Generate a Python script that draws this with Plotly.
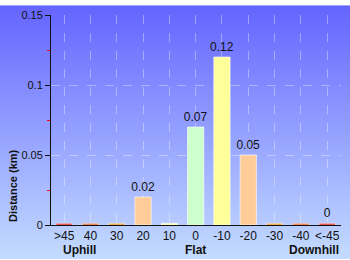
import base64
import plotly.graph_objects as go

categories = [">45", "40", "30", "20", "10", "0", "-10", "-20", "-30", "-40", "<-45"]
distances = [0.0012, 0.0012, 0.0012, 0.02, 0.0012, 0.07, 0.12, 0.05, 0.0012, 0.0012, 0.0012]
labels = ["", "", "", "0.02", "", "0.07", "0.12", "0.05", "", "", "0"]
bar_colors = ["#dd1111", "#e05518", "#e08a10", "#ffcc99", "#ffffaa", "#ccffcc",
              "#ffff99", "#ffcc99", "#e88a10", "#e85518", "#dd1111"]
group_labels = ["Uphill", "Flat", "Downhill"]
group_positions = [0.6, 5, 9.5]
y_title = "Distance (km)"

svg = ('<svg xmlns="http://www.w3.org/2000/svg" width="350" height="260" preserveAspectRatio="none">'
       '<defs><linearGradient id="g" x1="0" y1="0" x2="0" y2="1">'
       '<stop offset="0" stop-color="#6464ff"/><stop offset="1" stop-color="#c4dcff"/>'
       '</linearGradient></defs><rect width="350" height="260" fill="url(#g)"/></svg>')
src = "data:image/svg+xml;base64," + base64.b64encode(svg.encode()).decode()

FONT = "Liberation Sans, Arial, sans-serif"

fig = go.Figure()
fig.add_trace(go.Bar(
    x=categories, y=distances, text=labels, textposition="outside",
    textfont=dict(size=12, color="#111111"), cliponaxis=False, constraintext="none",
    marker=dict(color=bar_colors, line=dict(color="rgba(255,255,255,0.6)", width=1)),
    width=0.62,
))

annotations = [dict(x=pos, y=0, xref="x", yref="y", text="<b>%s</b>" % lab,
                    showarrow=False, yshift=-25, xanchor="center", yanchor="middle",
                    font=dict(size=12, color="#111111"))
               for lab, pos in zip(group_labels, group_positions)]
annotations.append(dict(x=0, y=40/215, xref="paper", yref="paper", text="<b>%s</b>" % y_title,
                        showarrow=False, textangle=-90, xshift=-38, xanchor="center", yanchor="middle",
                        font=dict(size=11, color="#111111")))

fig.update_layout(
    width=350, height=260,
    margin=dict(l=51, r=9, t=10, b=35),
    paper_bgcolor="rgba(0,0,0,0)",
    plot_bgcolor="rgba(255,255,255,0.2)",
    font=dict(family=FONT, size=12, color="#111111"),
    showlegend=False,
    images=[dict(source=src, xref="paper", yref="paper", x=-51/290, y=1 + 10/215,
                 sizex=350/290, sizey=260/215, sizing="stretch", layer="below",
                 xanchor="left", yanchor="top")],
    annotations=annotations,
    xaxis=dict(showline=True, linecolor="#111111", linewidth=1, ticks="",
               showgrid=True, gridcolor="rgba(255,255,255,0.35)", griddash="dash", gridwidth=1,
               tickfont=dict(size=12), zeroline=False, ticklabelstandoff=0),
    yaxis=dict(range=[0, 0.15], tickvals=[0, 0.05, 0.1, 0.15], ticktext=["0", "0.05", "0.1", "0.15"],
               showline=True, linecolor="#111111", linewidth=1,
               ticks="outside", ticklen=5, tickcolor="#111111",
               minor=dict(tickvals=[0.025, 0.075, 0.125], ticks="outside", ticklen=3, tickcolor="#ff0000", showgrid=False),
               showgrid=True, gridcolor="rgba(255,255,255,0.35)", griddash="dash", gridwidth=1,
               zeroline=False, tickfont=dict(size=11)),
)

fig.write_html("out.html")
